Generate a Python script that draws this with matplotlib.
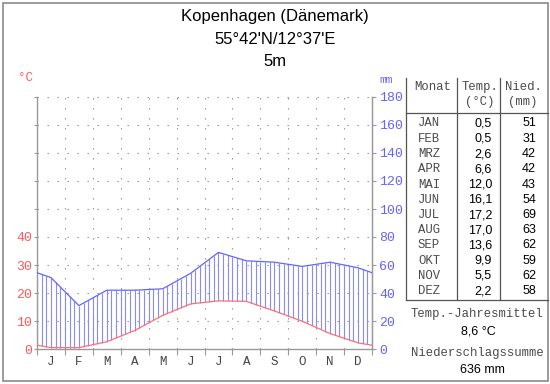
import numpy as np
import matplotlib as mpl
mpl.use('Agg')
import matplotlib.pyplot as plt
from matplotlib.patches import Rectangle
from matplotlib.lines import Line2D

# climate data Kopenhagen
months_short = ['J', 'F', 'M', 'A', 'M', 'J', 'J', 'A', 'S', 'O', 'N', 'D']
months_tab = ['JAN', 'FEB', 'MRZ', 'APR', 'MAI', 'JUN', 'JUL', 'AUG', 'SEP', 'OKT', 'NOV', 'DEZ']
temp = [0.5, 0.5, 2.6, 6.6, 12.0, 16.1, 17.2, 17.0, 13.6, 9.9, 5.5, 2.2]
prec = [51, 31, 42, 42, 43, 54, 69, 63, 62, 59, 62, 58]
temp_ticks = [0, 10, 20, 30, 40]
prec_ticks = [0, 20, 40, 60, 80, 100, 120, 140, 160, 180]
title_lines = ['Kopenhagen (Dänemark)', "55°42'N/12°37'E", '5m']
temp_mean = '8,6 °C'
prec_sum = '636 mm'

W, H = 550, 384
RED = '#ff5a5a'
BLUE = '#6464ff'
GREY = '#9a9a9a'
MONO = 'Liberation Mono'
SANS = 'Liberation Sans'

fig = plt.figure(figsize=(W / 100, H / 100), dpi=100)


def fx(x):
    return x / W


def fy(y):
    return 1 - y / H


def ftext(x, y, s, **kw):
    fig.text(fx(x), fy(y), s, va='center', **kw)


# plot area (pixels): x 37..372, y 97..349
ax = fig.add_axes([fx(37), fy(349), (372 - 37) / W, (349 - 97) / H])
ax.set_xlim(0, 12)
ax.set_ylim(0, 180)

# curves go edge to edge, wrap Dec/Jan for the edges
xc = np.arange(12) + 0.5
t2 = np.array(temp) * 2.0  # 10 C = 20 mm
p = np.array(prec, dtype=float)
xe = np.concatenate([[0], xc, [12]])
te = np.concatenate([[(t2[0] + t2[-1]) / 2], t2, [(t2[0] + t2[-1]) / 2]])
pe = np.concatenate([[(p[0] + p[-1]) / 2], p, [(p[0] + p[-1]) / 2]])

# grid (dotted)
dots = dict(color='#8c8c8c', lw=0.8, ls=(0, (1.2, 7.8)), zorder=1)
for yv in prec_ticks[1:]:
    ax.plot([0, 12], [yv, yv], **dots)
for xv in range(1, 12):
    ax.plot([xv, xv], [0, 180], **dots)

# vertical hatching between temp and precip
xs = np.linspace(0, 12, 73)
lo = np.interp(xs, xe, te)
hi = np.interp(xs, xe, pe)
ax.vlines(xs, lo, hi, color='#8a8aff', lw=0.8, zorder=2)

ax.plot(xe, pe, color=BLUE, lw=0.9, zorder=3)
ax.plot(xe, te, color='#ff7070', lw=0.9, zorder=3)

ax.spines['top'].set_visible(False)
for s in ['left', 'bottom', 'right']:
    ax.spines[s].set_color(GREY)
    ax.spines[s].set_linewidth(1.0)

# x axis: ticks at month borders, labels at centers
ax.set_xticks(range(13))
ax.set_xticklabels([])
ax.set_xticks(xc, minor=True)
ax.set_xticklabels(months_short, minor=True, fontfamily=MONO, fontsize=9, color='#444444')
ax.tick_params(axis='x', which='major', length=4, color=GREY, width=0.8)
ax.tick_params(axis='x', which='minor', length=0, pad=5)

# left: temperature labels
ax.set_yticks(prec_ticks)
ax.set_yticklabels([str(t) for t in temp_ticks] + [''] * (len(prec_ticks) - len(temp_ticks)),
                   fontfamily=MONO, fontsize=9.5, color=RED)
ax.tick_params(axis='y', length=2, color=GREY, width=0.8, pad=1.5)

# right: precipitation labels
ax2 = ax.twinx()
ax2.set_ylim(0, 180)
ax2.set_yticks(prec_ticks)
ax2.set_yticklabels([str(v) for v in prec_ticks], fontfamily=MONO, fontsize=9.5, color=BLUE)
ax2.tick_params(axis='y', length=3, color=GREY, width=0.8, pad=2)
for s in ['top', 'left', 'bottom']:
    ax2.spines[s].set_visible(False)
ax2.spines['right'].set_color(GREY)

ftext(26, 78, '°C', ha='center', fontfamily=MONO, fontsize=9, color=RED)
ftext(386, 80, 'mm', ha='center', fontfamily=MONO, fontsize=8, color=BLUE)

# title
for i, line in enumerate(title_lines):
    ftext(275, 17 + i * 22.5, line, ha='center', fontfamily=SANS, fontsize=12, color='black')

# table
tl = dict(color='#555555', lw=0.9)
fig.add_artist(Line2D([fx(406), fx(406)], [fy(78), fy(300)], **tl))
fig.add_artist(Line2D([fx(457), fx(457)], [fy(78), fy(300)], **tl))
fig.add_artist(Line2D([fx(500), fx(500)], [fy(78), fy(300)], **tl))
fig.add_artist(Line2D([fx(406), fx(548)], [fy(113), fy(113)], **tl))
fig.add_artist(Line2D([fx(406), fx(548)], [fy(300), fy(300)], **tl))

hd = dict(fontfamily=MONO, fontsize=8.8, color='#4a4a4a')
ftext(433, 87, 'Monat', ha='center', **hd)
ftext(480, 87, 'Temp.', ha='center', **hd)
ftext(480, 102, '(°C)', ha='center', **hd)
ftext(523, 87, 'Nied.', ha='center', **hd)
ftext(523, 102, '(mm)', ha='center', **hd)

for i in range(12):
    y = 123.5 + i * 15.25
    ftext(429, y, months_tab[i], ha='center', **hd)
    ftext(492, y, f'{temp[i]:.1f}'.replace('.', ','), ha='right',
          fontfamily=SANS, fontsize=9, color='black')
    ftext(536, y, str(prec[i]), ha='right', fontfamily=SANS, fontsize=9, color='black')

ftext(477, 314, 'Temp.-Jahresmittel', ha='center', **hd)
ftext(478, 332, temp_mean, ha='center', fontfamily=SANS, fontsize=9, color='black')
ftext(477, 353, 'Niederschlagssumme', ha='center', **hd)
ftext(482, 370, prec_sum, ha='center', fontfamily=SANS, fontsize=9, color='black')

# outer frame
fig.add_artist(Rectangle((fx(2.5), fy(380.5)), (547.5 - 2.5) / W, (380.5 - 2.5) / H,
                         transform=fig.transFigure, fill=False, edgecolor='#8a8a8a', lw=1.2))

fig.savefig('out.png', dpi=100)
